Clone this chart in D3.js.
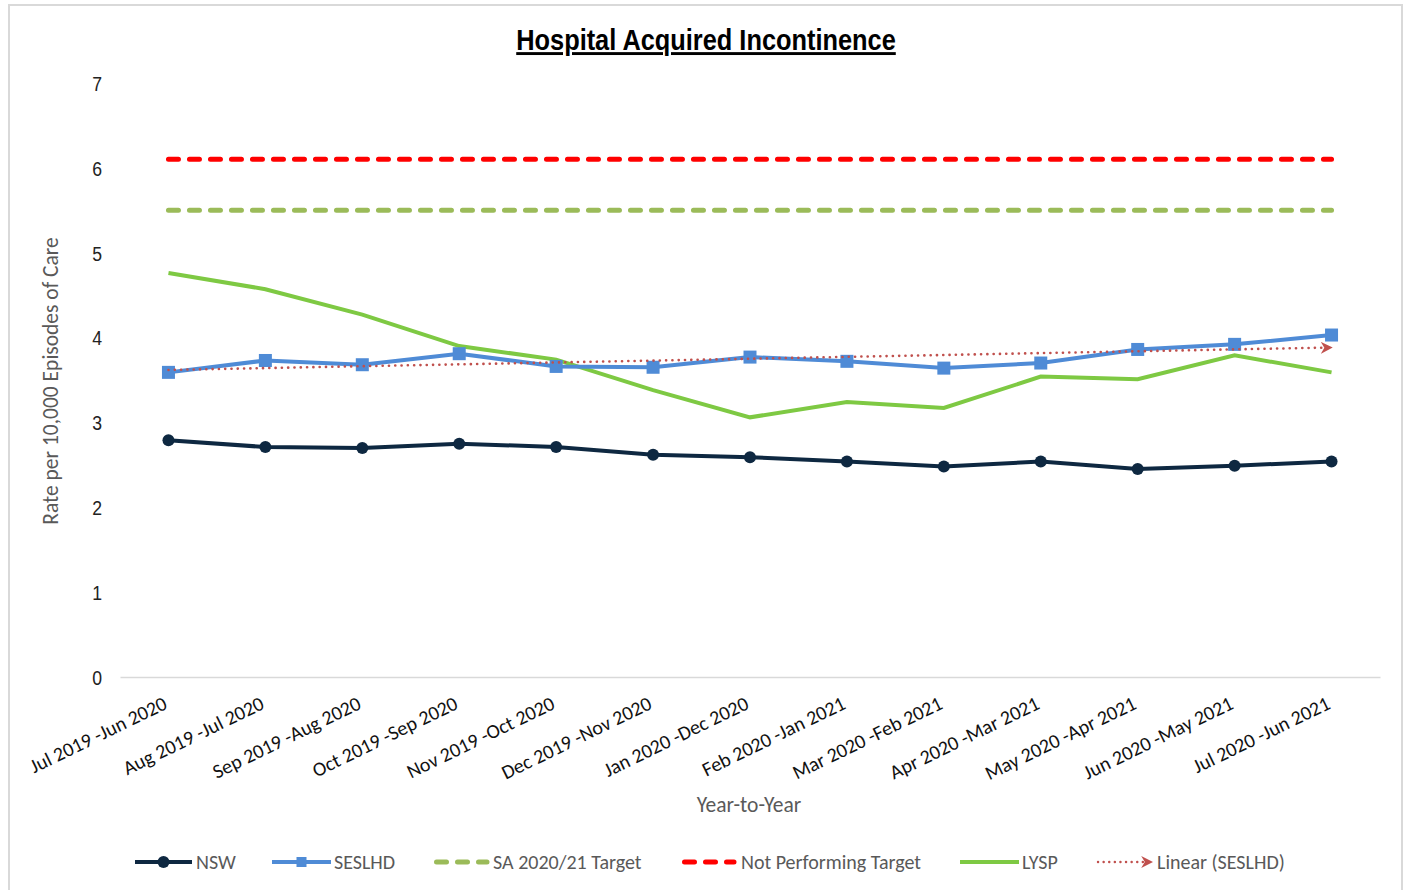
<!DOCTYPE html>
<html>
<head>
<meta charset="utf-8">
<script src="https://cdn.jsdelivr.net/npm/d3@7"></script>
<style>
  html, body { margin: 0; padding: 0; background: #fff; }
  svg { display: block; }
</style>
</head>
<body>
<svg id="chart" width="1406" height="890"></svg>
<script>
const categories = [
  "Jul 2019 -Jun 2020", "Aug 2019 -Jul 2020", "Sep 2019 -Aug 2020", "Oct 2019 -Sep 2020",
  "Nov 2019 -Oct 2020", "Dec 2019 -Nov 2020", "Jan 2020 -Dec 2020", "Feb 2020 -Jan 2021",
  "Mar 2020 -Feb 2021", "Apr 2020 -Mar 2021", "May 2020 -Apr 2021", "Jun 2020 -May 2021",
  "Jul 2020 -Jun 2021"
];
const nsw    = [2.79, 2.71, 2.70, 2.75, 2.71, 2.62, 2.59, 2.54, 2.48, 2.54, 2.45, 2.49, 2.54];
const seslhd = [3.59, 3.73, 3.68, 3.81, 3.66, 3.65, 3.77, 3.72, 3.64, 3.70, 3.86, 3.92, 4.03];
const lysp   = [4.76, 4.57, 4.27, 3.90, 3.74, 3.38, 3.06, 3.24, 3.17, 3.54, 3.51, 3.79, 3.59];
const saTarget = [5.5, 5.5, 5.5, 5.5, 5.5, 5.5, 5.5, 5.5, 5.5, 5.5, 5.5, 5.5, 5.5];
const notPerforming = [6.1, 6.1, 6.1, 6.1, 6.1, 6.1, 6.1, 6.1, 6.1, 6.1, 6.1, 6.1, 6.1];
const yTicks = [0, 1, 2, 3, 4, 5, 6, 7];

const C = {
  nsw: "#0e2841", seslhd: "#4f8bd6", lysp: "#7ec943",
  sa: "#9bbb59", np: "#ff0000", lin: "#c0504d"
};
const CAL = "Carlito, Calibri, Lato, sans-serif";
const NARROW = "'Liberation Sans Narrow', 'Arial Narrow', 'Liberation Sans', Arial, sans-serif";

const svg = d3.select("#chart");

// outer frame
svg.append("rect").attr("x", 9).attr("y", 5).attr("width", 1393).attr("height", 895)
  .attr("fill", "#fff").attr("stroke", "#d9d9d9").attr("stroke-width", 2);

const x = d3.scaleBand().domain(categories).range([120, 1380]);
const xc = d => x(d) + x.bandwidth() / 2;
const y = d3.scaleLinear().domain([0, 7]).range([677, 83]);

// defs: arrow marker
const defs = svg.append("defs");
defs.append("marker").attr("id", "arrow").attr("viewBox", "0 0 10 10")
  .attr("refX", 9).attr("refY", 5).attr("markerWidth", 12).attr("markerHeight", 12)
  .attr("markerUnits", "userSpaceOnUse").attr("orient", "auto")
  .append("path").attr("d", "M0,0 L10,5 L0,10 L3,5 Z").attr("fill", C.lin);

// Title (condensed)
svg.append("g").attr("transform", "translate(706,50) scale(0.875,1)")
  .append("text").attr("x", 0).attr("y", 0).attr("text-anchor", "middle")
  .attr("font-family", NARROW)
  .attr("font-weight", "bold").attr("font-size", 29).attr("fill", "#000")
  .attr("text-decoration", "underline")
  .text("Hospital Acquired Incontinence");

// Y axis ticks (labels only)
const yAxis = d3.axisLeft(y).tickValues(yTicks).tickSize(0).tickPadding(0).tickFormat(d3.format("d"));
const yg = svg.append("g").attr("transform", "translate(102,0)").call(yAxis);
yg.select(".domain").remove();
yg.selectAll(".tick text").attr("font-family", NARROW)
  .attr("font-size", 21).attr("fill", "#222").attr("dy", "0.35em")
  .attr("transform", "scale(0.84,1)");

// X axis baseline and labels
const xAxis = d3.axisBottom(x).tickSize(0).tickPadding(0);
const xg = svg.append("g").attr("transform", "translate(0,677)").call(xAxis);
xg.select(".domain").attr("stroke", "#d9d9d9").attr("stroke-width", 1.3);
xg.selectAll(".tick text")
  .attr("font-family", CAL)
  .attr("font-size", 20).attr("fill", "#111")
  .attr("text-anchor", "end")
  .attr("dy", 0).attr("y", 0)
  .attr("transform", "translate(0,31) rotate(-26)");

// Axis titles
svg.append("text").attr("transform", "translate(58,381) rotate(-90)").attr("text-anchor", "middle")
  .attr("font-family", CAL).attr("font-size", 21.5)
  .attr("fill", "#595959").text("Rate per 10,000 Episodes of Care");
svg.append("text").attr("x", 749).attr("y", 812).attr("text-anchor", "middle")
  .attr("font-family", CAL).attr("font-size", 21.5)
  .attr("fill", "#595959").text("Year-to-Year");

const line = d3.line().x((d, i) => xc(categories[i])).y(d => y(d));

// target lines
svg.append("path").datum(notPerforming).attr("d", line).attr("fill", "none")
  .attr("stroke", C.np).attr("stroke-width", 5).attr("stroke-linecap", "round")
  .attr("stroke-dasharray", "10,11");
svg.append("path").datum(saTarget).attr("d", line).attr("fill", "none")
  .attr("stroke", C.sa).attr("stroke-width", 5).attr("stroke-linecap", "round")
  .attr("stroke-dasharray", "10,11");

// LYSP
svg.append("path").datum(lysp).attr("d", line).attr("fill", "none")
  .attr("stroke", C.lysp).attr("stroke-width", 4);

// NSW
svg.append("path").datum(nsw).attr("d", line).attr("fill", "none")
  .attr("stroke", C.nsw).attr("stroke-width", 4);
svg.append("g").selectAll("circle").data(nsw).join("circle")
  .attr("cx", (d, i) => xc(categories[i])).attr("cy", d => y(d)).attr("r", 6)
  .attr("fill", C.nsw);

// SESLHD
svg.append("path").datum(seslhd).attr("d", line).attr("fill", "none")
  .attr("stroke", C.seslhd).attr("stroke-width", 4);
svg.append("g").selectAll("rect").data(seslhd).join("rect")
  .attr("x", (d, i) => xc(categories[i]) - 6.5).attr("y", d => y(d) - 6.5)
  .attr("width", 13).attr("height", 13).attr("fill", C.seslhd);

// Linear trend of SESLHD (least squares)
const n = seslhd.length;
const xs = d3.range(n);
const mx = d3.mean(xs), my = d3.mean(seslhd);
const slope = d3.sum(xs, i => (i - mx) * (seslhd[i] - my)) / d3.sum(xs, i => (i - mx) ** 2);
const icpt = my - slope * mx;
const trend = xs.map(i => icpt + slope * i);
svg.append("path").datum(trend).attr("d", line).attr("fill", "none")
  .attr("stroke", C.lin).attr("stroke-width", 2.6).attr("stroke-linecap", "round")
  .attr("stroke-dasharray", "0.1,6.2").attr("marker-end", "url(#arrow)");

// Legend
const ly = 862;
const lg = svg.append("g")
  .attr("font-family", CAL).attr("font-size", 20).attr("fill", "#595959");
const items = [
  { name: "NSW", x0: 135, x1: 192, tx: 196, kind: "nsw" },
  { name: "SESLHD", x0: 272, x1: 331, tx: 334, kind: "seslhd" },
  { name: "SA 2020/21 Target", x0: 434, x1: 487, tx: 493, kind: "sa" },
  { name: "Not Performing Target", x0: 682, x1: 734, tx: 741, kind: "np" },
  { name: "LYSP", x0: 960, x1: 1019, tx: 1022, kind: "lysp" },
  { name: "Linear (SESLHD)", x0: 1098, x1: 1152, tx: 1157, kind: "lin" }
];
items.forEach(it => {
  const g = lg.append("g");
  if (it.kind === "nsw" || it.kind === "seslhd" || it.kind === "lysp") {
    g.append("line").attr("x1", it.x0).attr("x2", it.x1).attr("y1", ly).attr("y2", ly)
      .attr("stroke", C[it.kind]).attr("stroke-width", 4);
    if (it.kind === "nsw") g.append("circle").attr("cx", (it.x0 + it.x1) / 2).attr("cy", ly).attr("r", 6).attr("fill", C.nsw);
    if (it.kind === "seslhd") g.append("rect").attr("x", (it.x0 + it.x1) / 2 - 5).attr("y", ly - 5).attr("width", 10).attr("height", 10).attr("fill", C.seslhd);
  } else if (it.kind === "sa" || it.kind === "np") {
    g.append("line").attr("x1", it.x0 + 2.5).attr("x2", it.x1).attr("y1", ly).attr("y2", ly)
      .attr("stroke", C[it.kind]).attr("stroke-width", 5).attr("stroke-linecap", "round")
      .attr("stroke-dasharray", "10,11");
  } else {
    g.append("line").attr("x1", it.x0).attr("x2", it.x1).attr("y1", ly).attr("y2", ly)
      .attr("stroke", C.lin).attr("stroke-width", 2.4).attr("stroke-linecap", "round")
      .attr("stroke-dasharray", "0.1,5.5").attr("marker-end", "url(#arrow)");
  }
  g.append("text").attr("x", it.tx).attr("y", ly).attr("dy", "0.35em").text(it.name);
});
</script>
</body>
</html>
